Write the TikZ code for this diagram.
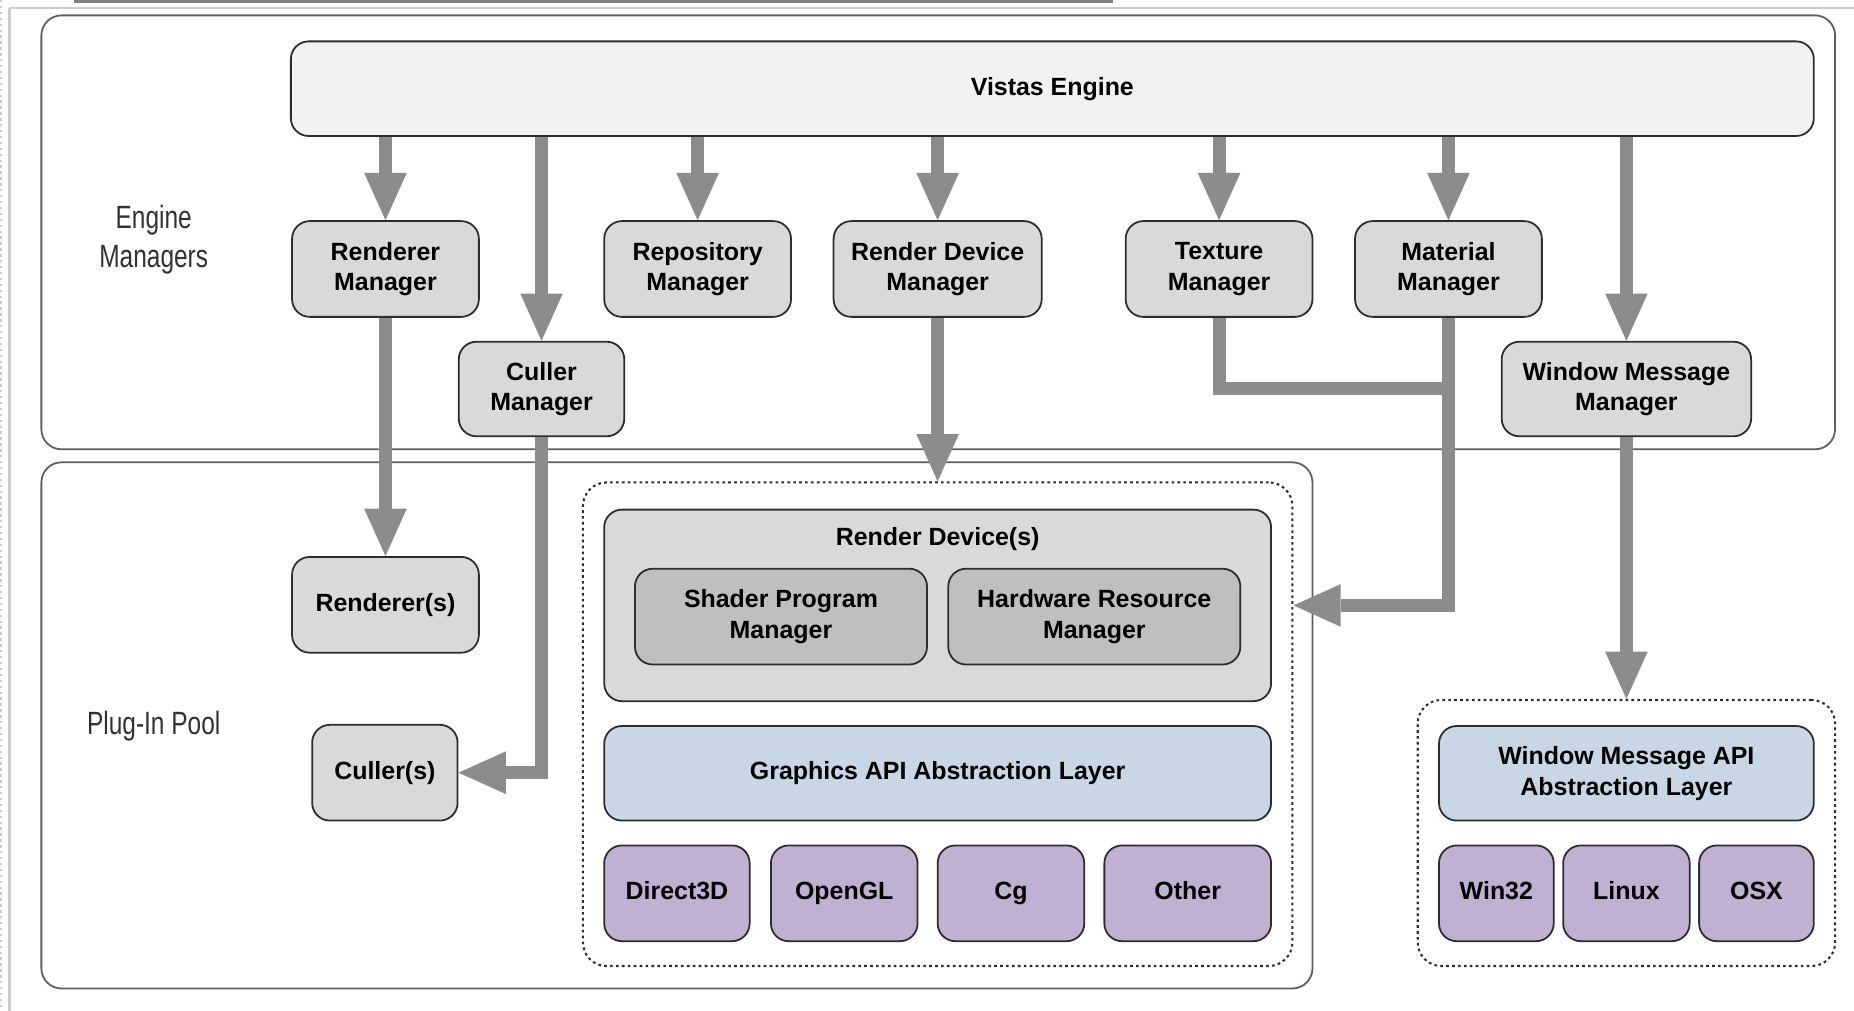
\documentclass[tikz,border=0pt]{standalone}
\usepackage{fontspec}
\setmainfont{Liberation Sans}
\newfontfamily\narrowfont[FakeStretch=0.76]{Liberation Sans}
\usetikzlibrary{arrows.meta}
\definecolor{arrowgray}{RGB}{140,140,140}
\definecolor{boxgray}{RGB}{217,217,217}
\definecolor{enginefill}{RGB}{242,242,242}
\definecolor{shadergray}{RGB}{191,191,191}
\definecolor{apiblue}{RGB}{201,214,229}
\definecolor{platpurple}{RGB}{192,176,210}
\definecolor{borderdark}{RGB}{45,45,45}
\definecolor{contborder}{RGB}{95,95,95}
\definecolor{labelgray}{RGB}{50,50,50}
\definecolor{framedark}{RGB}{128,128,128}
\definecolor{framelight}{RGB}{205,205,205}
\tikzset{
  corners/.style n args={4}{at={({(#1+#3)/2},{(#2+#4)/2})},
    minimum width={(#3-#1)*0.02cm}, minimum height={(#4-#2)*0.02cm}},
  container/.style={draw=contborder, line width=0.03cm, rounded corners=0.34cm, inner sep=0pt},
  dotbox/.style={draw=borderdark, line width=0.035cm, dash pattern=on 0.045cm off 0.055cm, rounded corners=0.4cm, inner sep=0pt},
  boxfont/.style={font=\bfseries\fontsize{12}{14.7}\selectfont},
  box/.style={draw=borderdark, line width=0.03cm, rounded corners=0.3cm, fill=boxgray, inner sep=0pt, align=center, boxfont},
  oneline/.style={text height=8.8pt, text depth=2.6pt},
  enginebox/.style={box, fill=enginefill},
  shaderbox/.style={box, fill=shadergray},
  apibox/.style={box, fill=apiblue},
  platbox/.style={box, fill=platpurple, oneline},
  bigarrow/.style={draw=arrowgray, line width=0.22cm, -{Triangle[length=0.8cm, width=0.72cm, line width=0pt]}},
  bigline/.style={draw=arrowgray, line width=0.22cm},
  sidelabel/.style={font=\narrowfont\fontsize{15.5}{18.8}\selectfont, text=labelgray, align=center}
}
\begin{document}
\begin{tikzpicture}[x=0.02cm, y=-0.02cm]
\useasboundingbox (0,0) rectangle (1568,855);
\fill[white] (0,0) rectangle (1568,855);
% screenshot frame
\fill[framedark] (63,0) rectangle (941,2.5);
\draw[framelight, line width=0.04cm] (8,7) -- (1568,7);
\draw[framelight, line width=0.04cm] (8,7) -- (8,855);
\draw[framelight, line width=0.03cm, dash pattern=on 0.04cm off 0.06cm] (0.8,0) -- (0.8,855);
% containers
\node[container, corners={35}{13}{1552}{380}] (engc) {};
\node[container, corners={35}{391}{1110}{836}] (plugc) {};
\node[dotbox, corners={493}{408}{1093}{817}] (rdz) {};
\node[dotbox, corners={1199}{592}{1552}{817}] (wz) {};
% side labels
\node[sidelabel] (lem) at (130,203) {Engine\\Managers};
\node[sidelabel] (lpp) at (130,614) {Plug-In Pool};
% engine
\node[enginebox, oneline, corners={246}{35}{1534}{115}] (ve) {Vistas Engine};
% managers
\node[box, corners={247}{187}{405}{268}] (rm) {Renderer\\Manager};
\node[box, corners={511}{187}{669}{268}] (rpm) {Repository\\Manager};
\node[box, corners={705}{187}{881}{268}] (rdm) {Render Device\\Manager};
\node[box, corners={952}{187}{1110}{268}] (tm) {Texture\\Manager};
\node[box, corners={1146}{187}{1304}{268}] (mm) {Material\\Manager};
\node[box, corners={388}{289}{528}{369}] (cm) {Culler\\Manager};
\node[box, corners={1270}{289}{1481}{369}] (wmm) {Window Message\\Manager};
% plug-ins
\node[box, oneline, corners={247}{471}{405}{552}] (rs) {Renderer(s)};
\node[box, oneline, corners={264}{613}{387}{694}] (cs) {Culler(s)};
\node[box, corners={511}{431}{1075}{593},
  label={[boxfont, anchor=center, yshift=-0.52cm]north:Render Device(s)}] (rd) {};
\node[shaderbox, corners={537}{481}{784}{562}] (spm) {Shader Program\\Manager};
\node[shaderbox, corners={802}{481}{1049}{562}] (hrm) {Hardware Resource\\Manager};
\node[apibox, oneline, corners={511}{614}{1075}{694}] (gapi) {Graphics API Abstraction Layer};
\node[platbox, corners={511}{715}{634}{796}] (d3d) {Direct3D};
\node[platbox, corners={652}{715}{776}{796}] (ogl) {OpenGL};
\node[platbox, corners={793}{715}{917}{796}] (cg) {Cg};
\node[platbox, corners={934}{715}{1075}{796}] (oth) {Other};
\node[apibox, corners={1217}{614}{1534}{694}] (wapi) {Window Message API\\Abstraction Layer};
\node[platbox, corners={1217}{715}{1314}{796}] (w32) {Win32};
\node[platbox, corners={1322}{715}{1429}{796}] (lnx) {Linux};
\node[platbox, corners={1437}{715}{1534}{796}] (osx) {OSX};
% arrows from engine
\draw[bigarrow] (rm.north |- ve.south) -- (rm.north);
\draw[bigarrow] (cm.north |- ve.south) -- (cm.north);
\draw[bigarrow] (rpm.north |- ve.south) -- (rpm.north);
\draw[bigarrow] (rdm.north |- ve.south) -- (rdm.north);
\draw[bigarrow] (tm.north |- ve.south) -- (tm.north);
\draw[bigarrow] (mm.north |- ve.south) -- (mm.north);
\draw[bigarrow] (wmm.north |- ve.south) -- (wmm.north);
% manager to plug-ins
\draw[bigarrow] (rm.south) -- (rs.north);
\draw[bigarrow] (cm.south) -- (cm.south |- cs.east) -- (cs.east);
\draw[bigarrow] (rdm.south) -- (rdz.north);
\coordinate (tmj) at ([yshift=-1.2cm]tm.south);
\draw[bigline] (tm.south) -- (tmj) -- (tmj -| mm.south);
\draw[bigarrow] (mm.south) -- (mm.south |- rd.east) -- (rdz.east |- rd.east);
\draw[bigarrow] (wmm.south) -- (wz.north);
\end{tikzpicture}
\end{document}
